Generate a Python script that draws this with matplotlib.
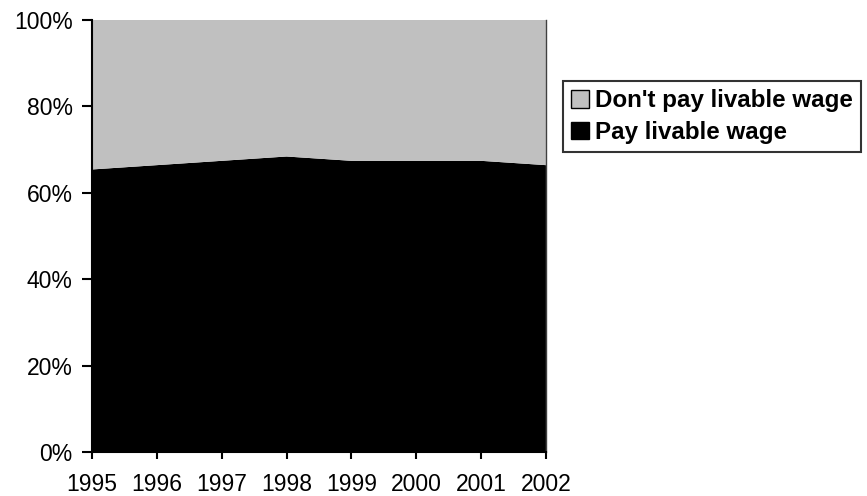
import matplotlib.pyplot as plt
from matplotlib.patches import Patch

plt.rcParams['font.family'] = ['Liberation Sans', 'DejaVu Sans']

years = [1995, 1996, 1997, 1998, 1999, 2000, 2001, 2002]
pay_livable = [65.4, 66.4, 67.4, 68.4, 67.4, 67.4, 67.4, 66.4]
dont_pay = [100 - v for v in pay_livable]
labels = ["Don't pay livable wage", "Pay livable wage"]
colors = ['#c0c0c0', '#000000']

fig = plt.figure(figsize=(8.67, 4.96), dpi=100)
ax = fig.add_axes([0.1061, 0.0887, 0.5236, 0.871])

ax.stackplot(years, pay_livable, dont_pay, colors=[colors[1], colors[0]], linewidth=0)

ax.set_xlim(years[0], years[-1])
ax.set_ylim(0, 100)
ax.set_xticks(years)
ax.set_yticks(range(0, 101, 20))
ax.set_yticklabels([f'{v}%' for v in range(0, 101, 20)])
ax.tick_params(axis='x', direction='out', length=5, width=1.5, labelsize=16.5, pad=10)
ax.tick_params(axis='y', direction='out', length=7, width=1.5, labelsize=16.5, pad=7)

for side in ['left', 'bottom']:
    ax.spines[side].set_linewidth(1.5)
ax.spines['top'].set_visible(False)
ax.spines['right'].set_color('#404040')
ax.spines['right'].set_linewidth(1)

handles = [Patch(facecolor=colors[0], edgecolor='black', linewidth=1),
           Patch(facecolor=colors[1], edgecolor='black', linewidth=1)]
leg = fig.legend(handles, labels, loc='upper left', bbox_to_anchor=(563 / 867, 1 - 81 / 496),
                 prop={'weight': 'bold', 'size': 17.4}, frameon=True, fancybox=False,
                 handlelength=0.72, handleheight=0.72, handletextpad=0.25,
                 labelspacing=0.35, borderpad=0.35, borderaxespad=0)
leg.get_frame().set_edgecolor('black')
leg.get_frame().set_linewidth(1.5)

fig.savefig('out.png', dpi=100)
